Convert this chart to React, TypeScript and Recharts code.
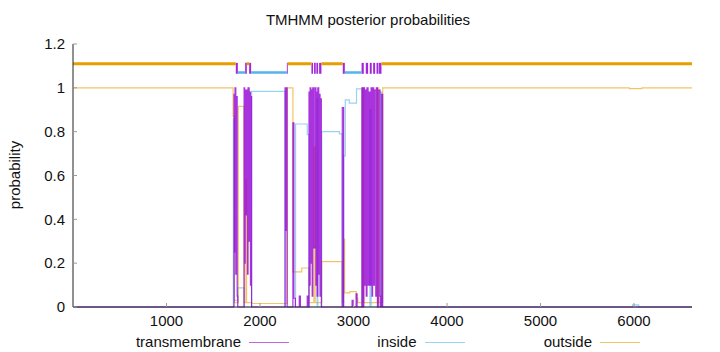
import React from 'react'
import { LineChart, Line, XAxis, YAxis, ReferenceArea } from 'recharts'

const W = 720
const H = 352
const FONT = '"Liberation Sans", Arial, Helvetica, sans-serif'

const seqLength = 6620
const xTicks = [1000, 2000, 3000, 4000, 5000, 6000]
const yTicks = [0, 0.2, 0.4, 0.6, 0.8, 1, 1.2]

// [position, probability] breakpoints, drawn as steps
const transmembrane = [
  [0, 0],
  [1722, 0.97], [1728, 0.25], [1733, 1.0], [1741, 0.15], [1746, 0.96], [1756, 0.05], [1762, 0],
  [1830, 1.0], [1836, 0.2], [1841, 0.99], [1849, 0.42], [1856, 0.99], [1866, 0.15], [1872, 1.0],
  [1884, 0.3], [1890, 0.98], [1898, 0.1], [1903, 0.96], [1910, 0],
  [2268, 1.0], [2276, 0.35], [2281, 1.0], [2290, 0],
  [2352, 0.84], [2362, 0.04], [2378, 0],
  [2420, 0.05], [2432, 0], [2505, 0.05], [2515, 0],
  [2524, 0.98], [2530, 0.1], [2536, 1.0], [2544, 0.2], [2550, 0.99], [2558, 0.05], [2564, 1.0],
  [2576, 0.27], [2590, 1.0], [2598, 0.1], [2604, 0.98], [2611, 0.05], [2618, 1.0], [2628, 0.15],
  [2634, 0.97], [2642, 0.05], [2647, 0.95], [2656, 0],
  [2880, 0.91], [2894, 0],
  [2985, 0.03], [2996, 0], [3028, 0.06], [3038, 0],
  [3090, 1.0], [3097, 0], [3110, 1.0], [3118, 0.1], [3124, 0.99], [3136, 0.05], [3144, 1.0],
  [3156, 0.1], [3164, 0.98], [3176, 0.1], [3188, 1.0], [3198, 0.05], [3204, 1.0], [3216, 0.1],
  [3224, 0.99], [3238, 0.05], [3244, 1.0], [3256, 0], [3270, 0.99], [3284, 0.05], [3291, 0],
  [3302, 0.97], [3312, 0],
  [6620, 0],
]

const inside = [
  [0, 0], [1715, 0.86], [1722, 0.03], [1762, 0.087], [1829, 0], [1910, 0.984], [2268, 0],
  [2380, 0.835], [2505, 0.786], [2524, 0], [2611, 0.95], [2618, 0], [2660, 0.8], [2850, 0.79],
  [2878, 0], [2894, 0.69], [2912, 0.945], [2955, 0.93], [3032, 0.995], [3090, 0],
  [3176, 0.9], [3188, 0], [3291, 0.98], [3302, 0], [5985, 0.01], [6050, 0], [6620, 0],
]

const outside = [
  [0, 1], [1712, 0.87], [1727, 0.02], [1768, 0.915], [1829, 0.02], [1849, 0.58], [1856, 0.02],
  [1910, 0.016], [2290, 1.0], [2352, 0.16], [2447, 0.178], [2522, 0.02], [2576, 0.73],
  [2590, 0.02], [2660, 0.207], [2878, 0.02], [2894, 0.31], [2905, 0.064], [2960, 0.07],
  [3030, 0.04], [3046, 0.02], [3097, 1.0], [3110, 0.02], [3256, 1.0], [3270, 0.02],
  [3312, 1.0], [5950, 0.996], [6085, 1.0], [6620, 1.0],
]

// predicted topology: o = outside, i = inside, M = membrane
const topology: [number, number, string][] = [
  [0, 1741, 'o'], [1741, 1763, 'M'], [1763, 1841, 'i'], [1841, 1859, 'M'], [1859, 1884, 'o'],
  [1884, 1905, 'M'], [1905, 2287, 'i'], [2287, 2297, 'M'], [2297, 2550, 'o'], [2550, 2567, 'M'],
  [2578, 2596, 'M'], [2603, 2621, 'M'], [2632, 2657, 'M'], [2657, 2885, 'o'], [2885, 2907, 'M'],
  [2907, 3086, 'i'], [3086, 3110, 'M'], [3131, 3156, 'M'], [3174, 3195, 'M'], [3210, 3231, 'M'],
  [3246, 3267, 'M'], [3273, 3299, 'M'], [3299, 6620, 'o'],
]

const legendNames = ['transmembrane', 'inside', 'outside']
const colors = { tm: '#9400d3', inside: '#56b4e9', outside: '#e69f00' }
const legendColors = [colors.tm, colors.inside, colors.outside]

const toPoints = (pairs: number[][]) => pairs.map(([x, y]) => ({ x, y }))

function band(kind: string, level: number) {
  return topology
    .filter(t => t[2] === kind)
    .flatMap(([from, to]) => [
      { x: from, y: level },
      { x: to, y: level },
      { x: to, y: null },
    ])
}

export default function App() {
  const tick = { fontSize: 15, fill: '#111', fontFamily: FONT }
  return (
    <div style={{ position: 'absolute', left: 0, top: 0, width: W, height: H, background: '#fff', fontFamily: FONT, color: '#111' }}>
      <div style={{ position: 'absolute', left: 0, width: 736, top: 11, textAlign: 'center', fontSize: 15 }}>
        TMHMM posterior probabilities
      </div>
      <div style={{ position: 'absolute', left: 14, top: 175, transform: 'translate(-50%, -50%) rotate(-90deg)', fontSize: 15, whiteSpace: 'nowrap' }}>
        probability
      </div>

      <LineChart width={W} height={H} margin={{ top: 44, right: 28, bottom: 0, left: 0 }}>
        <XAxis
          xAxisId="b" type="number" dataKey="x" domain={[0, seqLength]} ticks={xTicks}
          height={45} tickSize={-4} tickMargin={12} tick={tick}
          axisLine={{ stroke: '#222' }} tickLine={{ stroke: '#999' }}
        />
        <XAxis
          xAxisId="t" orientation="top" type="number" dataKey="x" domain={[0, seqLength]} ticks={xTicks}
          height={0} tickSize={-4} tick={false}
          axisLine={{ stroke: '#222' }} tickLine={{ stroke: '#999' }}
        />
        <YAxis
          yAxisId="l" type="number" domain={[0, 1.2]} ticks={yTicks} width={73}
          tickSize={-4} tickMargin={12} tick={tick}
          axisLine={{ stroke: '#222' }} tickLine={{ stroke: '#999' }}
        />
        <YAxis
          yAxisId="r" orientation="right" type="number" domain={[0, 1.2]} ticks={yTicks} width={0}
          tickSize={-4} tick={false}
          axisLine={{ stroke: '#222' }} tickLine={{ stroke: '#999' }}
        />

        <Line xAxisId="b" yAxisId="l" data={toPoints(outside)} dataKey="y" type="stepAfter"
          stroke={colors.outside} strokeOpacity={0.6} strokeWidth={1.2} dot={false} activeDot={false} isAnimationActive={false} />
        <Line xAxisId="b" yAxisId="l" data={toPoints(inside)} dataKey="y" type="stepAfter"
          stroke={colors.inside} strokeOpacity={0.6} strokeWidth={1.2} dot={false} activeDot={false} isAnimationActive={false} />
        <Line xAxisId="b" yAxisId="l" data={toPoints(transmembrane)} dataKey="y" type="stepAfter"
          stroke={colors.tm} strokeOpacity={0.8} strokeWidth={1.2} dot={false} activeDot={false} isAnimationActive={false} />

        <Line xAxisId="b" yAxisId="l" data={band('o', 1.11)} dataKey="y" type="linear" connectNulls={false}
          stroke={colors.outside} strokeWidth={3} dot={false} activeDot={false} isAnimationActive={false} />
        <Line xAxisId="b" yAxisId="l" data={band('i', 1.07)} dataKey="y" type="linear" connectNulls={false}
          stroke={colors.inside} strokeWidth={2.5} dot={false} activeDot={false} isAnimationActive={false} />
        {topology.filter(t => t[2] === 'M').map(([from, to], i) => (
          <ReferenceArea key={i} xAxisId="b" yAxisId="l" x1={from} x2={to} y1={1.064} y2={1.114}
            fill={colors.tm} fillOpacity={0.85} stroke="none" />
        ))}
      </LineChart>

      {legendNames.map((name, i) => {
        const textEnd = 241 + i * 175.5
        return (
          <React.Fragment key={name}>
            <div style={{ position: 'absolute', right: W - textEnd, top: 333, fontSize: 15, lineHeight: '18px', whiteSpace: 'nowrap' }}>
              {name}
            </div>
            <div style={{ position: 'absolute', left: textEnd + 8, top: 342, width: 40, height: 1, background: legendColors[i], opacity: 0.6 }} />
          </React.Fragment>
        )
      })}
    </div>
  )
}
